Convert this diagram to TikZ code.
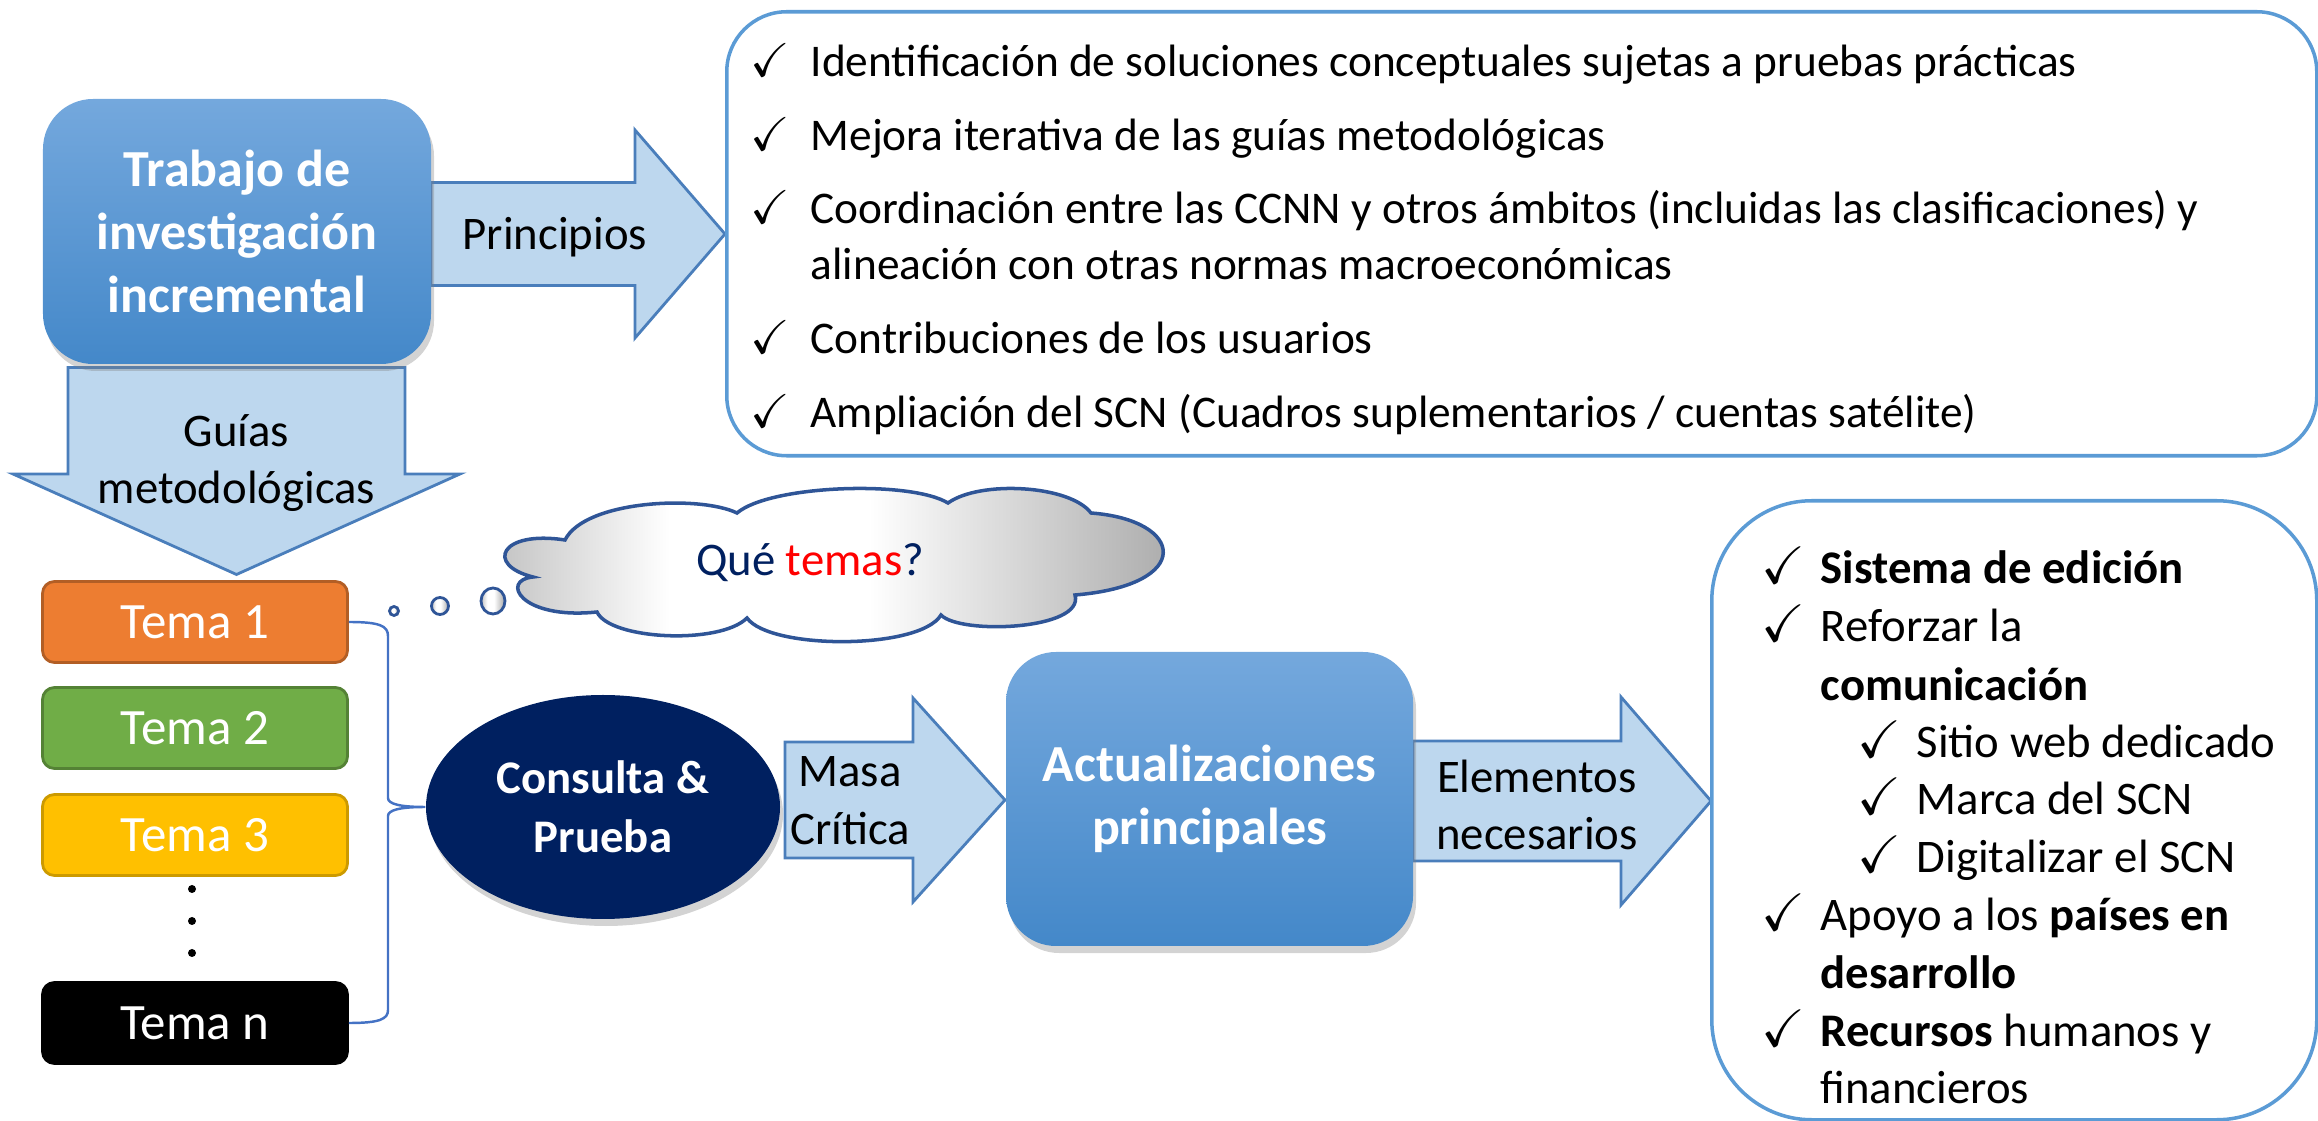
\documentclass[tikz,border=0pt]{standalone}
\usepackage{amssymb}
\usepackage{fontspec}
\setmainfont{Carlito}
\usepackage{xcolor}
\usepackage{tikz}
\usetikzlibrary{positioning, shapes.geometric, shadows}
\definecolor{boxtop}{RGB}{116, 168, 221}
\definecolor{boxbot}{RGB}{68, 136, 201}
\definecolor{arrfill}{RGB}{189, 215, 238}
\definecolor{arrdraw}{RGB}{74, 126, 187}
\definecolor{listdraw}{RGB}{91, 155, 213}
\definecolor{navy}{RGB}{0, 32, 96}
\definecolor{bracecol}{RGB}{68, 114, 196}
\definecolor{clouddraw}{RGB}{47, 85, 151}
\definecolor{temaA}{RGB}{237, 125, 49}
\definecolor{temaB}{RGB}{112, 173, 71}
\definecolor{temaC}{RGB}{255, 192, 0}
\pgfdeclarehorizontalshading{cloudshade}{100bp}{color(0bp)=(gray!50); color(25bp)=(gray!50); color(38bp)=(white);
    color(52bp)=(white); color(75bp)=(gray!70); color(100bp)=(gray!70)}
\newcommand{\txtsize}{\fontsize{13.3}{16.4}\selectfont}
\newcommand{\lstsize}{\fontsize{12.9}{15.5}\selectfont}
\newcommand{\ttlsize}{\fontsize{14.8}{17.9}\selectfont\bfseries}
\newcommand{\chk}{{\fontsize{13.5}{16}\selectfont$\checkmark$}}
\newcommand{\chkb}{{\fontsize{15}{18}\selectfont$\checkmark$}}

\begin{document}
\begin{tikzpicture}[
    mainbox/.style={rounded corners=0.5cm, top color=boxtop, bottom color=boxbot, text=white, font=\ttlsize, align=center,
        drop shadow={opacity=0.35, shadow xshift=0.03cm, shadow yshift=-0.07cm}},
    tema/.style={rounded corners=0.12cm, minimum width=3.05cm, minimum height=0.81cm, text=white,
        font=\fontsize{14.5}{17}\selectfont, line width=0.8pt},
    blockarr/.style={fill=arrfill, draw=arrdraw, line width=0.8pt},
    listbox/.style={draw=listdraw, line width=1pt, anchor=north west},
    lbl/.style={font=\txtsize, align=center},
    itm/.style={font=\txtsize, anchor=base west, inner sep=0pt},
    top/.style={font=\lstsize, anchor=base west, inner sep=0pt},
    bubble/.style={circle, draw=clouddraw, shading=cloudshade, line width=0.8pt, inner sep=0pt},
    dotn/.style={circle, fill=black, inner sep=0pt, minimum size=0.08cm},
    brace/.style={draw=bracecol, line width=0.7pt}
]
    \useasboundingbox (0,0) rectangle (23.18,-11.21);

    % block arrows
    \draw[blockarr] (4.31,-1.825) -- (6.35,-1.825) -- (6.35,-1.30) -- (7.25,-2.34) -- (6.35,-3.38) -- (6.35,-2.855) -- (4.31,-2.855) -- cycle;
    \draw[blockarr] (0.68,-3.675) -- (4.05,-3.675) -- (4.05,-4.74) -- (4.60,-4.74) -- (2.365,-5.745) -- (0.13,-4.74) -- (0.68,-4.74) -- cycle;
    \draw[blockarr] (7.85,-7.42) -- (9.13,-7.42) -- (9.13,-6.98) -- (10.05,-8.0) -- (9.13,-9.02) -- (9.13,-8.58) -- (7.85,-8.58) -- cycle;
    \draw[blockarr] (14.13,-7.41) -- (16.21,-7.41) -- (16.21,-6.97) -- (17.11,-8.01) -- (16.21,-9.05) -- (16.21,-8.61) -- (14.13,-8.61) -- cycle;

    \node[mainbox, minimum width=3.88cm, minimum height=2.65cm] (trabajo) at (2.37,-2.315) {Trabajo de\\investigación\\incremental};
    \node[mainbox, minimum width=4.07cm, minimum height=2.94cm] (actual) at (12.095,-7.99) {Actualizaciones\\principales};

    \node[lbl] (princ) at (5.55,-2.37) {Principios};
    \node[lbl] (guias) at (2.365,-4.63) {Guías\\metodológicas};
    \node[lbl] (masa) at (8.50,-8.01) {Masa\\Crítica};
    \node[lbl] (elem) at (15.37,-8.05) {Elementos\\necesarios};

    % temas
    \node[tema, fill=temaA, draw=temaA!75!black] (t1) at (1.95,-6.22) {Tema 1};
    \node[tema, fill=temaB, draw=temaB!75!black] (t2) at (1.95,-7.28) {Tema 2};
    \node[tema, fill=temaC, draw=temaC!80!black] (t3) at (1.95,-8.35) {Tema 3};
    \node[tema, fill=black, draw=black] (tn) at (1.95,-10.23) {Tema n};
    \node[dotn] (d1) at (1.92,-8.89) {};
    \node[dotn] (d2) at (1.92,-9.21) {};
    \node[dotn] (d3) at (1.92,-9.53) {};

    \node[ellipse, fill=navy, minimum width=3.54cm, minimum height=2.24cm, text=white, align=center,
        font=\fontsize{13.3}{16.8}\selectfont\bfseries,
        drop shadow={opacity=0.35, shadow xshift=0.03cm, shadow yshift=-0.07cm}] (consulta) at (6.03,-8.07) {Consulta \&\\Prueba};

    \draw[brace] (t1.east) .. controls (3.80,-6.22) and (3.88,-6.26) .. (3.88,-6.36)
        -- (3.88,-7.98) .. controls (3.88,-8.04) and (4.00,-8.07) .. (consulta.west)
        .. controls (4.00,-8.07) and (3.88,-8.10) .. (3.88,-8.16)
        -- (3.88,-10.10) .. controls (3.88,-10.19) and (3.80,-10.23) .. (tn.east);

    % thought cloud
    \node[bubble, minimum size=0.09cm] (b1) at (3.94,-6.11) {};
    \node[bubble, minimum size=0.17cm] (b2) at (4.40,-6.06) {};
    \node[bubble, ellipse, minimum width=0.24cm, minimum height=0.26cm] (b3) at (4.93,-6.01) {};
    \draw[draw=clouddraw, line width=1pt, shading=cloudshade] (5.65,-5.40)
        .. controls (5.85,-5.00) and (7.00,-4.95) .. (7.37,-5.13)
        .. controls (7.70,-4.85) and (9.10,-4.80) .. (9.48,-5.03)
        .. controls (9.80,-4.80) and (10.70,-4.85) .. (10.91,-5.13)
        .. controls (11.85,-5.20) and (11.95,-5.85) .. (10.75,-5.95)
        .. controls (10.85,-6.30) and (9.60,-6.35) .. (9.41,-6.15)
        .. controls (9.20,-6.50) and (7.70,-6.50) .. (7.47,-6.18)
        .. controls (7.20,-6.45) and (6.10,-6.40) .. (5.97,-6.12)
        .. controls (5.20,-6.20) and (5.00,-5.80) .. (5.33,-5.77)
        .. controls (4.85,-5.65) and (5.00,-5.30) .. (5.65,-5.40) -- cycle;
    \node[lbl] (que) at (8.10,-5.63) {\textcolor{navy}{Qué} \textcolor{red}{temas}\textcolor{navy}{?}};

    % principios list
    \node[listbox, rounded corners=0.6cm, minimum width=15.9cm, minimum height=4.44cm] (princbox) at (7.25,-0.10) {};
    \node[top] (c1) at (7.50,-0.77) {\chk};
    \node[top] (p1) at (8.10,-0.77) {Identificación de soluciones conceptuales sujetas a pruebas prácticas};
    \node[top] (c2) at (7.50,-1.51) {\chk};
    \node[top] (p2) at (8.10,-1.51) {Mejora iterativa de las guías metodológicas};
    \node[top] (c3) at (7.50,-2.24) {\chk};
    \node[top] (p3) at (8.10,-2.24) {Coordinación entre las CCNN y otros ámbitos (incluidas las clasificaciones) y};
    \node[top] (p3b) at (8.10,-2.80) {alineación con otras normas macroeconómicas};
    \node[top] (c4) at (7.50,-3.54) {\chk};
    \node[top] (p4) at (8.10,-3.54) {Contribuciones de los usuarios};
    \node[top] (c5) at (7.50,-4.28) {\chk};
    \node[top] (p5) at (8.10,-4.28) {Ampliación del SCN (Cuadros suplementarios / cuentas satélite)};

    % elementos list
    \node[listbox, rounded corners=1cm, minimum width=6.05cm, minimum height=6.19cm] (elembox) at (17.10,-4.99) {};
    \node[itm] (e1c) at (17.61,-5.84) {\chkb};
    \node[itm] (e1) at (18.20,-5.84) {\textbf{Sistema de edición}};
    \node[itm] (e2c) at (17.61,-6.415) {\chkb};
    \node[itm] (e2) at (18.20,-6.415) {Reforzar la};
    \node[itm] (e2b) at (18.20,-7.01) {\textbf{comunicación}};
    \node[itm] (s1c) at (18.57,-7.58) {\chkb};
    \node[itm] (s1) at (19.16,-7.58) {Sitio web dedicado};
    \node[itm] (s2c) at (18.57,-8.15) {\chkb};
    \node[itm] (s2) at (19.16,-8.15) {Marca del SCN};
    \node[itm] (s3c) at (18.57,-8.73) {\chkb};
    \node[itm] (s3) at (19.16,-8.73) {Digitalizar el SCN};
    \node[itm] (e3c) at (17.61,-9.31) {\chkb};
    \node[itm] (e3) at (18.20,-9.31) {Apoyo a los \textbf{países en}};
    \node[itm] (e3b) at (18.20,-9.89) {\textbf{desarrollo}};
    \node[itm] (e4c) at (17.61,-10.46) {\chkb};
    \node[itm] (e4) at (18.20,-10.46) {\textbf{Recursos} humanos y};
    \node[itm] (e4b) at (18.20,-11.035) {financieros};
\end{tikzpicture}
\end{document}
